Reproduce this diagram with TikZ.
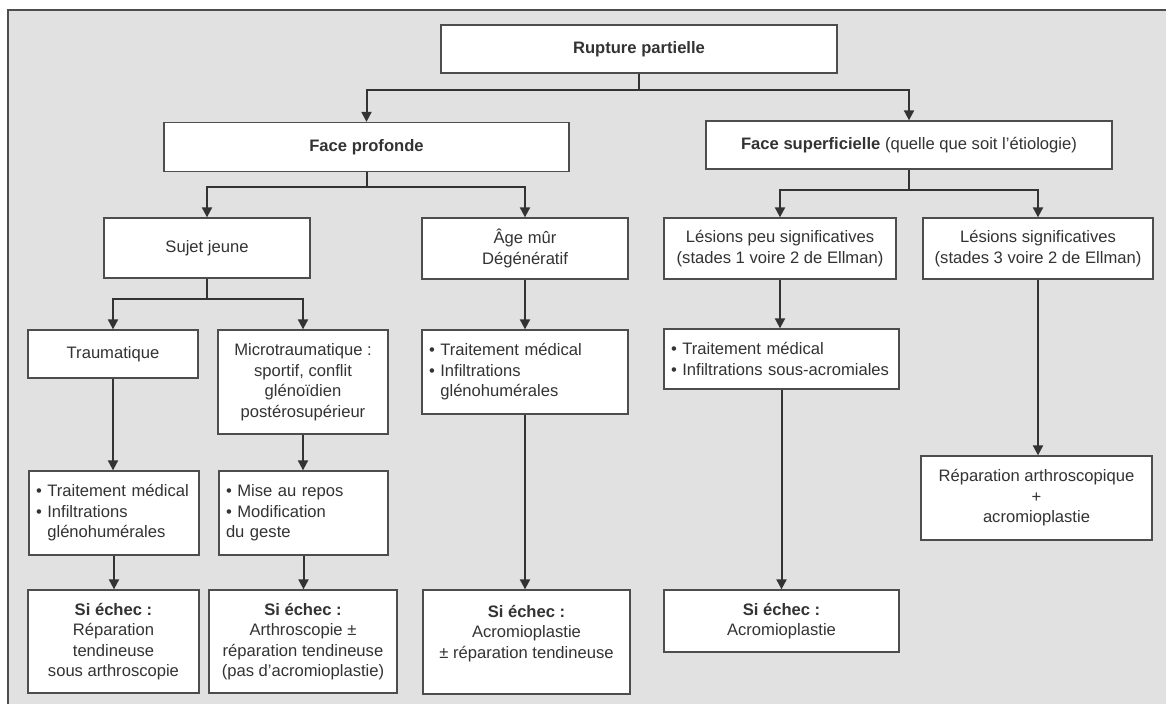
\documentclass[tikz,border=0pt]{standalone}
\usepackage{fontspec}
\setmainfont{Liberation Sans}
\usetikzlibrary{arrows.meta}

\definecolor{ink}{HTML}{333333}
\definecolor{edge}{HTML}{4d4d4d}
\definecolor{bg}{HTML}{e1e1e1}

\tikzstyle{box} = [draw=edge, fill=white, line width=1.3pt, text=ink, align=center, inner sep=3pt, font=\fontsize{16.6}{20.5}\selectfont]
\tikzstyle{lst} = [box, align=left, inner xsep=7pt]
\tikzstyle{line} = [line width=2pt, draw=ink]
\tikzstyle{arw} = [line, -{Triangle[length=10pt,width=10pt]}]

\begin{document}
\begin{tikzpicture}[x=1pt, y=-1pt]

    \useasboundingbox (0,0) rectangle (1166,704);
    \fill[bg] (8,10) rectangle (1166,704);
    \draw[line, draw=edge] (8,704) -- (8,10) -- (1166,10);

\node[box, minimum width=396, minimum height=48] (rupture) at (639,49) {\textbf{Rupture partielle}};

\node[box, minimum width=405, minimum height=49] (profonde) at (366.5,147) {\textbf{Face profonde}};
\node[box, minimum width=406, minimum height=48] (superf) at (909,145) {\textbf{Face superficielle} (quelle que soit l'étiologie)};

\node[box, minimum width=206, minimum height=60] (sujet) at (207,248) {Sujet jeune};
\node[box, minimum width=206, minimum height=61] (agemur) at (525,248.5) {Âge mûr\\Dégénératif};
\node[box, minimum width=232, minimum height=61] (lpeu) at (780,248.5) {Lésions peu significatives\\(stades 1 voire 2 de Ellman)};
\node[box, minimum width=230, minimum height=61] (lsig) at (1038,248.5) {Lésions significatives\\(stades 3 voire 2 de Ellman)};

\node[box, minimum width=170, minimum height=48] (traum) at (113,354) {Traumatique};
\node[box, minimum width=170, minimum height=104] (micro) at (303,382) {Microtraumatique :\\sportif, conflit\\glénoïdien\\postérosupérieur};

\node[lst, text width=156, minimum height=84] (trait1) at (114,513) {• Traitement médical\\• Infiltrations\\\phantom{• }glénohumérales};
\node[lst, text width=155, minimum height=84] (repos) at (303.5,513) {• Mise au repos\\• Modification\\du geste};
\node[lst, text width=192, minimum height=84] (trait2) at (525,372) {• Traitement médical\\• Infiltrations\\\phantom{• }glénohumérales};
\node[lst, text width=221, minimum height=60] (trait3) at (781.5,359) {• Traitement médical\\• Infiltrations sous-acromiales};

\node[box, minimum width=171, minimum height=103] (echec1) at (113.5,641.5) {\textbf{Si échec :}\\Réparation\\tendineuse\\sous arthroscopie};
\node[box, minimum width=188, minimum height=103] (echec2) at (303,641.5) {\textbf{Si échec :}\\Arthroscopie ±\\réparation tendineuse\\(pas d'acromioplastie)};
\node[box, minimum width=207, minimum height=104] (echec3) at (526.5,642) {\textbf{Si échec :}\\Acromioplastie\\± réparation tendineuse\\\mbox{}};
\node[box, minimum width=235, minimum height=62] (echec4) at (781.5,621) {\textbf{Si échec :}\\Acromioplastie};
\node[box, minimum width=231, minimum height=84] (repar) at (1036.5,498) {Réparation arthroscopique\\+\\acromioplastie};

    % forks
    \draw[arw] (rupture.south) -- ++(0,16) -| (profonde.north);
    \draw[arw] (rupture.south) -- ++(0,16) -| (superf.north);
    \draw[arw] (profonde.south) -- ++(0,15) -| (sujet.north);
    \draw[arw] (profonde.south) -- ++(0,15) -| (agemur.north);
    \draw[arw] (superf.south) -- ++(0,20) -| (lpeu.north);
    \draw[arw] (superf.south) -- ++(0,20) -| (lsig.north);
    \draw[arw] (sujet.south) -- ++(0,20) -| (traum.north);
    \draw[arw] (sujet.south) -- ++(0,20) -| (micro.north);

    % straight arrows
    \draw[arw] (traum.south) -- (traum.south |- trait1.north);
    \draw[arw] (micro.south) -- (micro.south |- repos.north);
    \draw[arw] (trait1.south) -- (trait1.south |- echec1.north);
    \draw[arw] (repos.south) -- (repos.south |- echec2.north);
    \draw[arw] (agemur.south) -- (agemur.south |- trait2.north);
    \draw[arw] (trait2.south) -- (trait2.south |- echec3.north);
    \draw[arw] (lpeu.south) -- (lpeu.south |- trait3.north);
    \draw[arw] (trait3.south) -- (trait3.south |- echec4.north);
    \draw[arw] (lsig.south) -- (lsig.south |- repar.north);

\end{tikzpicture}
\end{document}
